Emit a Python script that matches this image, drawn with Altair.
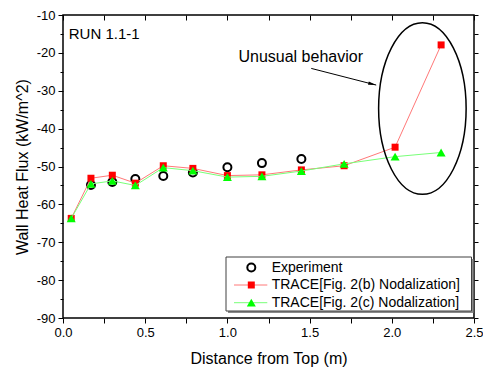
import altair as alt
import pandas as pd

# ---- data ----
exp_x = [0.17, 0.30, 0.44, 0.61, 0.79, 1.00, 1.21, 1.45]
exp_y = [-54.9, -54.1, -53.3, -52.5, -51.6, -50.2, -49.1, -48.0]
node_x = [0.05, 0.17, 0.30, 0.44, 0.61, 0.79, 1.00, 1.21, 1.45, 1.71, 2.02, 2.30]
b_y = [-63.7, -53.1, -52.3, -54.4, -49.8, -50.5, -52.4, -52.2, -50.9, -49.8, -44.9, -17.9]
c_y = [-63.7, -54.6, -53.8, -55.0, -50.3, -51.1, -52.8, -52.6, -51.2, -49.3, -47.4, -46.3]
legend_labels = ["Experiment", "TRACE[Fig. 2(b) Nodalization]", "TRACE[Fig. 2(c) Nodalization]"]
x_ticks = [0.0, 0.25, 0.5, 0.75, 1.0, 1.25, 1.5, 1.75, 2.0, 2.25, 2.5]
y_ticks = [-90, -85, -80, -75, -70, -65, -60, -55, -50, -45, -40, -35, -30, -25, -20, -15, -10]

FONT = "Liberation Sans"
W, H = 411, 303
xs = alt.Scale(domain=[0, 2.5], nice=False, zero=False)
ys = alt.Scale(domain=[-90, -10], nice=False, zero=False)

exp_df = pd.DataFrame({"x": exp_x, "y": exp_y})
b_df = pd.DataFrame({"x": node_x, "y": b_y})
c_df = pd.DataFrame({"x": node_x, "y": c_y})


def enc(axis_x=None, axis_y=None):
    return dict(x=alt.X("x:Q", scale=xs, axis=axis_x), y=alt.Y("y:Q", scale=ys, axis=axis_y))


# main axes (bottom / left)
x_axis = alt.Axis(values=x_ticks, title="Distance from Top (m)", orient="bottom",
                  labelExpr="datum.value % 0.5 == 0 ? format(datum.value, '.1f') : ''",
                  labelFlush=False, labelOverlap=False, tickSize=5, labelPadding=3,
                  titlePadding=11, domain=False)
y_axis = alt.Axis(values=y_ticks, title="Wall Heat Flux (kW/m^2)", orient="left",
                  labelExpr="datum.value % 10 == 0 ? '' + datum.value : ''",
                  labelOverlap=False,
                  tickSize={"condition": {"test": "datum.value % 10 == 0", "value": 5}, "value": 3},
                  labelPadding=3, titlePadding=6, domain=False)
top_axis = alt.Axis(values=x_ticks, title=None, orient="top", labels=False,
                    domain=False, tickSize=5, offset=-5)
right_axis = alt.Axis(values=y_ticks, title=None, orient="right", labels=False,
                      domain=False, tickSize=4)

axes_main = alt.Chart(b_df).mark_point(opacity=0).encode(**enc(x_axis, y_axis))
axes_mirror = alt.Chart(b_df).mark_point(opacity=0).encode(**enc(top_axis, right_axis))

exp_pts = alt.Chart(exp_df).mark_point(shape="circle", filled=False, stroke="black",
                                        strokeWidth=2, size=64, opacity=1).encode(**enc())
b_line = alt.Chart(b_df).mark_line(color="#FF7878", strokeWidth=1).encode(**enc())
b_pts = alt.Chart(b_df).mark_point(shape="square", filled=True, fill="#FF0000",
                                    size=49, opacity=1).encode(**enc())
c_line = alt.Chart(c_df).mark_line(color="#78FF78", strokeWidth=1).encode(**enc())
c_pts = alt.Chart(c_df).mark_point(shape="triangle-up", filled=True, fill="#00FF00",
                                    size=81, opacity=1).encode(**enc())

# annotations
run_df = pd.DataFrame({"x": [0.035], "y": [-16.3], "t": ["RUN 1.1-1"]})
run_txt = alt.Chart(run_df).mark_text(align="left", baseline="alphabetic", font=FONT,
                                      fontSize=15, color="black").encode(**enc(), text="t:N")
unu_df = pd.DataFrame({"x": [1.446], "y": [-22.5], "t": ["Unusual behavior"]})
unu_txt = alt.Chart(unu_df).mark_text(align="center", baseline="alphabetic", font=FONT,
                                      fontSize=16, color="black").encode(**enc(), text="t:N")

ell_df = pd.DataFrame({"x": [2.186], "y": [-34.7]})
ELLIPSE = ("M0,-1C0.2817,-1 0.51,-0.5523 0.51,0C0.51,0.5523 0.2817,1 0,1"
           "C-0.2817,1 -0.51,0.5523 -0.51,0C-0.51,-0.5523 -0.2817,-1 0,-1Z")
ellipse = alt.Chart(ell_df).mark_point(shape=ELLIPSE, filled=False, stroke="black",
                                       strokeWidth=1.5, size=171.6 ** 2, opacity=1).encode(**enc())

arr_df = pd.DataFrame({"x": [1.51], "y": [-24.1], "x2": [1.905], "y2": [-28.5]})
arrow_line = alt.Chart(arr_df).mark_rule(color="black", strokeWidth=1).encode(
    **enc(), x2="x2:Q", y2="y2:Q")
head_df = pd.DataFrame({"x": [1.905], "y": [-28.5]})
arrow_head = alt.Chart(head_df).mark_point(shape="M0,0L-2,-0.4L-2,0.4Z", filled=True,
                                           fill="black", size=64, angle=14, opacity=1).encode(**enc())

# legend (drawn by hand, Origin style)
one = pd.DataFrame({"k": [0]})
legend_layers = [
    alt.Chart(one).mark_rect(fill="#8a8a8a").encode(
        x=alt.value(165), x2=alt.value(410.5), y=alt.value(244), y2=alt.value(298)),
    alt.Chart(one).mark_rect(fill="white", stroke="#404040", strokeWidth=1).encode(
        x=alt.value(163), x2=alt.value(408.5), y=alt.value(242), y2=alt.value(296)),
]
ly = [252.5, 270.0, 287.7]
sym_x, line_x1, line_x2, text_x = 188.3, 171, 204.3, 208.7
legend_layers.append(alt.Chart(one).mark_point(shape="circle", filled=False, stroke="black",
                                               strokeWidth=2, size=64, opacity=1).encode(
    x=alt.value(sym_x), y=alt.value(ly[0])))
legend_layers.append(alt.Chart(one).mark_rule(color="#FF7878", strokeWidth=1).encode(
    x=alt.value(line_x1), x2=alt.value(line_x2), y=alt.value(ly[1])))
legend_layers.append(alt.Chart(one).mark_point(shape="square", filled=True, fill="#FF0000",
                                               size=49, opacity=1).encode(
    x=alt.value(sym_x), y=alt.value(ly[1])))
legend_layers.append(alt.Chart(one).mark_rule(color="#78FF78", strokeWidth=1).encode(
    x=alt.value(line_x1), x2=alt.value(line_x2), y=alt.value(ly[2])))
legend_layers.append(alt.Chart(one).mark_point(shape="triangle-up", filled=True, fill="#00FF00",
                                               size=81, opacity=1).encode(
    x=alt.value(sym_x), y=alt.value(ly[2])))
for lab, yy in zip(legend_labels, ly):
    legend_layers.append(alt.Chart(one).mark_text(align="left", baseline="middle", font=FONT,
                                                  fontSize=14, color="black").encode(
        x=alt.value(text_x), y=alt.value(yy), text=alt.value(lab)))

chart = alt.layer(
    axes_main, axes_mirror,
    exp_pts, b_line, b_pts, c_line, c_pts,
    ellipse, arrow_line, arrow_head, run_txt, unu_txt,
    *legend_layers,
).resolve_axis(x="independent", y="independent").properties(
    width=W, height=H, autosize="none",
    padding={"left": 63, "top": 15, "right": 9, "bottom": 49},
    background="white",
).configure_view(stroke="black", strokeWidth=1.5).configure_axis(
    labelFont=FONT, titleFont=FONT, labelFontSize=13, titleFontSize=16,
    labelColor="black", titleColor="black", titleFontWeight="normal",
    tickColor="black", tickWidth=1, grid=False,
)

chart.save("out.html", embed_options={"renderer": "svg", "actions": False})
